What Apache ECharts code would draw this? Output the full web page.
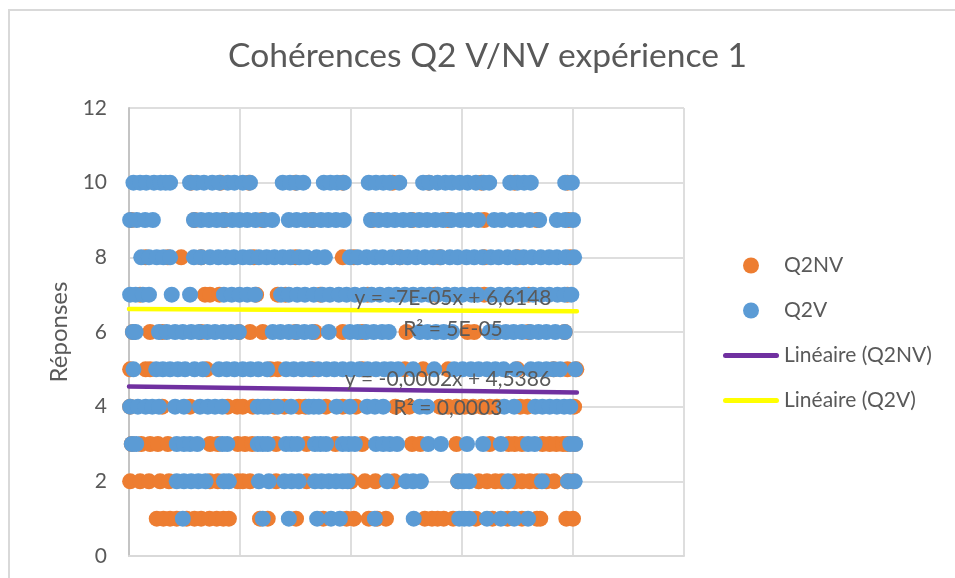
<!DOCTYPE html>
<html>
<head>
<meta charset="utf-8">
<style>html,body{margin:0;padding:0;background:#fff}#c{width:955px;height:578px}</style>
<script src="https://cdn.jsdelivr.net/npm/echarts@6/dist/echarts.min.js"></script>
</head>
<body>
<div id="c"></div>
<script>
var chartTitle = 'Cohérences Q2 V/NV expérience 1';
var yAxisName = 'Réponses';
var seriesNames = ['Q2NV', 'Q2V', 'Linéaire (Q2NV)', 'Linéaire (Q2V)'];

// Q2V: x positions by answer value
var v10 = [8,20,31,45,57,66,74,110,122,135,150,163,178,190,205,218,277,290,302,314,351,363,375,387,432,445,458,470,487,530,541,556,570,582,596,610,625,639,649,687,700,712,724,786,798];
var v9 = [2,14,29,43,117,130,144,158,171,186,199,213,228,243,258,288,302,317,331,346,359,373,387,436,450,465,479,494,508,523,537,552,566,581,597,612,629,658,672,690,705,722,739,771,786,800];
var v8 = [22,36,50,62,74,117,130,146,161,175,189,205,218,234,248,262,277,291,307,320,338,353,398,412,428,443,457,473,488,502,517,533,548,562,578,592,608,622,637,652,666,682,697,711,726,742,757,771,787,802];
var v7 = [2,12,25,36,77,110,171,185,199,213,227,274,288,303,317,333,348,362,378,392,407,423,437,452,468,482,497,512,527,541,556,572,587,601,617,628,652,668,683,697,712,728,743,757,772,785,797];
var v6 = [7,12,54,68,83,97,112,126,141,155,170,184,198,259,273,288,302,316,330,360,398,412,427,441,456,468,524,538,553,567,582,650,664,679,693,708,723,738,752,768,785];
var v5 = [8,49,61,74,88,101,118,133,162,176,190,205,219,233,249,283,297,312,326,341,356,370,385,400,415,430,445,460,472,485,512,550,586,601,616,630,645,660,675,697,724,738,752,765,777,804];
var v4 = [2,16,30,42,54,83,99,128,142,155,168,232,243,250,268,292,324,333,342,374,398,429,443,458,524,537,676,694,732,745,758,771,784,795];
var v3 = [5,13,86,99,110,123,168,177,232,241,250,283,293,303,335,345,355,385,396,407,445,458,470,483,539,562,609,638,670,719,731,795,804];
var v2 = [86,99,112,125,138,171,180,234,252,280,293,306,335,347,360,373,385,394,465,499,512,526,593,603,613,683,744,791,803];
var v1 = [97,241,288,339,364,380,443,513,595,604,613,645,670,694,719];

// Q2NV: x positions by answer value
var n10 = [112,165,216,300,385,475,540,635,695,790];
var n9 = [4,118,172,240,330,438,510,575,640,735,792];
var n8 = [30,70,94,130,225,300,385,405,488,560,640,700,795];
var n7 = [20,137,146,163,229,268,282,345,430,552,640,720,790];
var n6 = [7,38,60,130,198,218,241,300,335,385,420,500,610,622,660,720,785];
var n5 = [2,30,38,140,255,268,330,420,497,530,575,700,765,790,806];
var n4 = [2,60,110,178,195,205,223,262,280,306,318,355,385,409,480,505,560,575,590,605,620,635,650,663,705,718,802];
var n3 = [5,22,38,52,70,146,160,196,209,222,265,320,372,420,510,525,590,650,684,695,708,745,758,770,782,790,803];
var n2 = [2,20,36,56,72,146,160,196,205,218,265,320,400,425,444,478,593,630,645,660,672,695,708,722,735,752,766,790,800];
var n1 = [50,62,74,86,104,118,130,145,158,170,180,236,250,301,350,392,405,432,447,463,533,546,556,567,584,625,655,682,708,735,741,788,800];

var answerLevels = [10, 9, 8, 7, 6, 5, 4, 3, 2, 1];
var v2Rows = [v10, v9, v8, v7, v6, v5, v4, v3, v2, v1];
var nvRows = [n10, n9, n8, n7, n6, n5, n4, n3, n2, n1];

// Trend lines, as labelled in the chart
var trendX = [0, 807];
var trendNV = [4.5386, 4.377];
var trendV = [6.6148, 6.558];

var eqV = 'y = -7E-05x + 6,6148';
var r2V = 'R² = 5E-05';
var eqNV = 'y = -0,0002x + 4,5386';
var r2NV = 'R² = 0,0003';

function toPoints(rows) {
  var out = [];
  rows.forEach(function (row, i) {
    row.forEach(function (x) { out.push([x, answerLevels[i]]); });
  });
  return out;
}
function zip(xs, ys) { return xs.map(function (x, i) { return [x, ys[i]]; }); }

var FONT = 'Lato';
var GREY = '#595959';
var LINE_ICON = 'path://M2.5 0H53.5A2.5 2.5 0 0 1 53.5 5H2.5A2.5 2.5 0 0 1 2.5 0Z';
var chart = echarts.init(document.getElementById('c'), null, { renderer: 'canvas' });

function eqLabel(text, x, y) {
  return { type: 'text', x: x, y: y, z: 100,
    style: { text: text, fill: GREY, font: '21px ' + FONT, textAlign: 'center', textVerticalAlign: 'middle' } };
}

chart.setOption({
  animation: false,
  backgroundColor: '#ffffff',
  title: {
    text: chartTitle, left: 482.5, top: 34, textAlign: 'center',
    textStyle: { color: GREY, fontFamily: FONT, fontWeight: 'normal', fontSize: 33.6 }
  },
  grid: { left: 129, top: 108, width: 555, height: 448, containLabel: false },
  legend: {
    orient: 'vertical', left: 723, top: 255, itemWidth: 56, itemHeight: 16, itemGap: 24,
    padding: 0,
    data: [
      { name: seriesNames[0], icon: 'circle' },
      { name: seriesNames[1], icon: 'circle' },
      { name: seriesNames[2], icon: LINE_ICON },
      { name: seriesNames[3], icon: LINE_ICON }
    ],
    textStyle: { color: GREY, fontFamily: FONT, fontSize: 21 }
  },
  xAxis: {
    type: 'value', min: 0, max: 1000, interval: 200,
    axisLabel: { show: false }, axisTick: { show: false },
    axisLine: { show: true, onZero: false, lineStyle: { color: '#D9D9D9', width: 2 } },
    splitLine: { show: true, lineStyle: { color: '#DEDEDE', width: 2 } }
  },
  yAxis: {
    type: 'value', min: 0, max: 12, interval: 2,
    name: yAxisName, nameLocation: 'middle', nameGap: 55, nameRotate: 90,
    nameTextStyle: { color: GREY, fontFamily: FONT, fontSize: 24 },
    axisLabel: { color: GREY, fontFamily: FONT, fontSize: 21, margin: 22 },
    axisTick: { show: false },
    axisLine: { show: true, lineStyle: { color: '#C4C4C4', width: 2 } },
    splitLine: { show: true, lineStyle: { color: '#DEDEDE', width: 2 } }
  },
  series: [
    { name: seriesNames[0], type: 'scatter', z: 2, symbolSize: 16, itemStyle: { color: '#ED7D31', opacity: 1 }, data: toPoints(nvRows) },
    { name: seriesNames[1], type: 'scatter', z: 3, symbolSize: 16, itemStyle: { color: '#5B9BD5', opacity: 1 }, data: toPoints(v2Rows) },
    { name: seriesNames[2], type: 'line', z: 4, symbol: 'none', silent: true, lineStyle: { color: '#7030A0', width: 4.5, cap: 'round' }, itemStyle: { color: '#7030A0' }, data: zip(trendX, trendNV) },
    { name: seriesNames[3], type: 'line', z: 4, symbol: 'none', silent: true, lineStyle: { color: '#FFFF00', width: 4.5, cap: 'round' }, itemStyle: { color: '#FFFF00' }, data: zip(trendX, trendV) }
  ],
  graphic: [
    { type: 'rect', z: -1, silent: true, shape: { x: 9, y: 10, width: 1000, height: 640 }, style: { fill: 'none', stroke: '#D9D9D9', lineWidth: 2 } },
    eqLabel(eqV, 453, 298),
    eqLabel(r2V, 453, 329),
    eqLabel(eqNV, 448, 379),
    eqLabel(r2NV, 448, 408)
  ]
});
</script>
</body>
</html>
